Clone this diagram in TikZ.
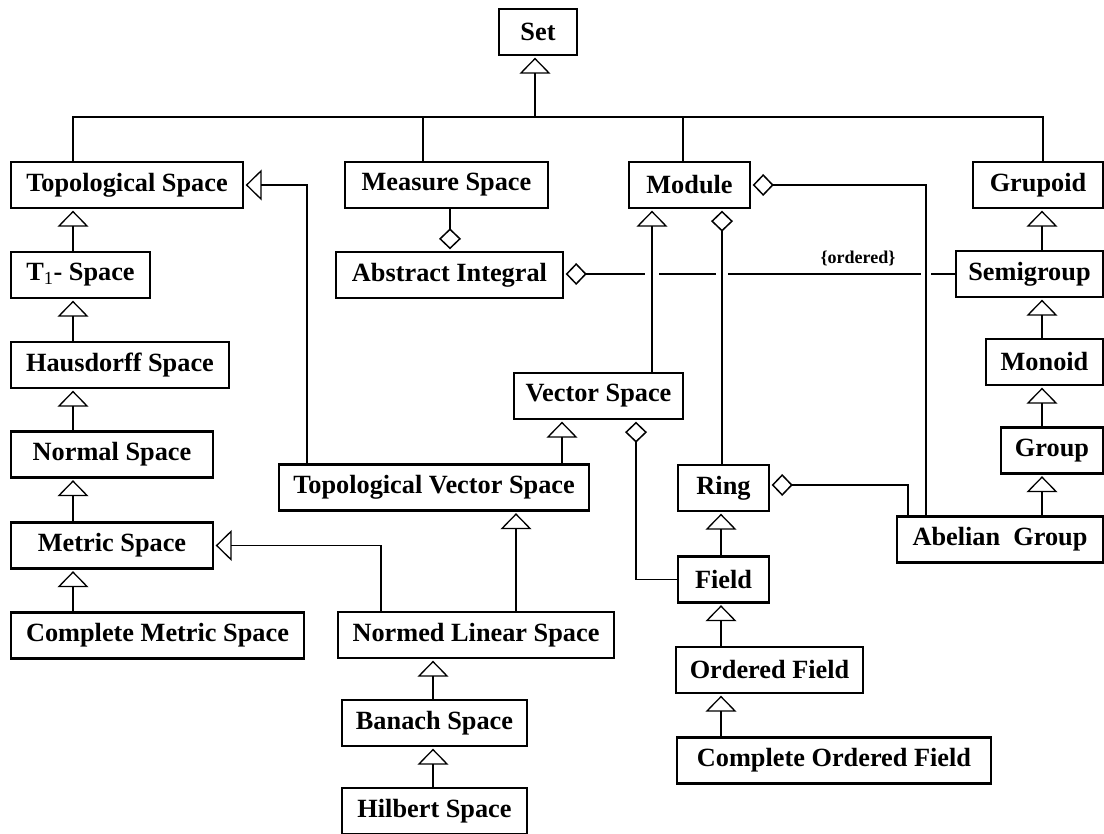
\documentclass[tikz,border=0pt]{standalone}
\usepackage{fontspec}
\setmainfont{Liberation Serif}
\usetikzlibrary{arrows.meta,calc}
\begin{document}
\begin{tikzpicture}[x=1pt,y=-1pt,
  box/.style={draw, line width=2.4pt, inner sep=0pt, minimum height=46pt,
    font=\bfseries\fontsize{26.3}{30}\selectfont},
  conn/.style={line width=1.7pt},
  inh/.style={conn, -{Triangle[open, width=31pt, length=16pt, line width=1.3pt]}, shorten >=1.5pt},
  agg/.style={conn, -{Diamond[open, width=22pt, length=21pt, line width=1.5pt]}, shorten >=1.5pt},
  lbl/.style={font=\bfseries\fontsize{18}{21}\selectfont, inner sep=0pt}]
\useasboundingbox (0,0) rectangle (1104,834);

% nodes
\node[box, minimum width=78pt]  (set)    at (538,32)    {Set};
\node[box, minimum width=232pt] (ts)     at (127,185)   {Topological Space};
\node[box, minimum width=203pt] (ms)     at (446.5,185) {Measure Space};
\node[box, minimum width=121pt] (mod)    at (689.5,185) {Module};
\node[box, minimum width=130pt] (grp)    at (1038,185)  {Grupoid};
\node[box, minimum width=139pt] (t1)     at (80.5,275)  {T\textsubscript{\mdseries 1}- Space};
\node[box, minimum width=227pt] (ai)     at (449.5,275) {Abstract Integral};
\node[box, minimum width=147pt] (semi)   at (1029.5,274) {Semigroup};
\node[box, minimum width=218pt] (haus)   at (120,365)   {Hausdorff Space};
\node[box, minimum width=117pt] (monoid) at (1044.5,362) {Monoid};
\node[box, minimum width=169pt] (vs)     at (598.5,396) {Vector Space};
\node[box, minimum width=202pt] (normal) at (112,454.5) {Normal Space};
\node[box, minimum width=102pt] (group)  at (1052,450.5) {Group};
\node[box, minimum width=310pt] (tvs)    at (434,487.5) {Topological Vector Space};
\node[box, minimum width=91pt]  (ring)   at (723.5,488) {Ring};
\node[box, minimum width=206pt] (abel)   at (1000,539.5) {Abelian\ \ Group};
\node[box, minimum width=202pt] (metric) at (112,545.5) {Metric Space};
\node[box, minimum width=91pt]  (field)  at (723.5,579.5) {Field};
\node[box, minimum width=293pt] (cms)    at (157.5,635.5) {Complete Metric Space};
\node[box, minimum width=276pt] (nls)    at (476,635)   {Normed Linear Space};
\node[box, minimum width=187pt] (of)     at (769.5,670) {Ordered Field};
\node[box, minimum width=185pt] (banach) at (434.5,723) {Banach Space};
\node[box, minimum width=314pt] (cof)    at (834,760.5) {Complete Ordered Field};
\node[box, minimum width=185pt] (hilbert) at (434.5,811) {Hilbert Space};

% helper coordinates
\coordinate (b0) at (535,117);
\coordinate (b1) at (73,117);
\coordinate (b2) at (423,117);
\coordinate (b3) at (683,117);
\coordinate (b4) at (1043,117);
\coordinate (xl) at (73,0);
\coordinate (xr) at (1042,0);
\coordinate (xf) at (721,0);
\coordinate (xn) at (433,0);
\coordinate (xtv) at (516,0);
\coordinate (xvs) at (562,0);
\coordinate (xmo) at (652,0);
\coordinate (xts) at (307,0);
\coordinate (xme) at (381,0);
\coordinate (xms) at (450,0);
\coordinate (xri) at (722,0);
\coordinate (xab) at (926,0);
\coordinate (xab2) at (908,0);
\coordinate (xvf) at (636,0);

% bus from Set
\draw[conn] (b1 |- ts.north) -- (b1) -- (b4) -- (b4 |- grp.north);
\draw[conn] (b2) -- (b2 |- ms.north);
\draw[conn] (b3) -- (b3 |- mod.north);
\draw[inh] (b0) -- (b0 |- set.south);

% left column
\draw[inh] (xl |- t1.north) -- (xl |- ts.south);
\draw[inh] (xl |- haus.north) -- (xl |- t1.south);
\draw[inh] (xl |- normal.north) -- (xl |- haus.south);
\draw[inh] (xl |- metric.north) -- (xl |- normal.south);
\draw[inh] (xl |- cms.north) -- (xl |- metric.south);

% right column
\draw[inh] (xr |- semi.north) -- (xr |- grp.south);
\draw[inh] (xr |- monoid.north) -- (xr |- semi.south);
\draw[inh] (xr |- group.north) -- (xr |- monoid.south);
\draw[inh] (xr |- abel.north) -- (xr |- group.south);

% field column
\draw[inh] (xf |- field.north) -- (xf |- ring.south);
\draw[inh] (xf |- of.north) -- (xf |- field.south);
\draw[inh] (xf |- cof.north) -- (xf |- of.south);

% normed column
\draw[inh] (xn |- banach.north) -- (xn |- nls.south);
\draw[inh] (xn |- hilbert.north) -- (xn |- banach.south);
\draw[inh] (xtv |- nls.north) -- (xtv |- tvs.south);
\draw[inh] (xvs |- tvs.north) -- (xvs |- vs.south);
\draw[inh] (xts |- tvs.north) |- (ts.east);
\draw[inh] (xme |- nls.north) |- (metric.east);

% ordered association with gaps
\draw[agg] (semi.west) -- (ai.east |- semi.west);
\node[lbl] (ord) at (858,258) {\{ordered\}};
\fill[white] ($(xmo |- semi.west)+(-7,-5)$) rectangle +(14,10);
\fill[white] ($(xri |- semi.west)+(-6,-5)$) rectangle +(12,10);
\fill[white] ($(xab |- semi.west)+(-5,-5)$) rectangle +(10,10);

% vertical connectors crossing the ordered line
\draw[inh] (xmo |- vs.north) -- (xmo |- mod.south);
\draw[agg] (xri |- ring.north) -- (xri |- mod.south);
\draw[agg] (xab |- abel.north) |- (mod.east);

% other aggregations
\draw[agg] (xms |- ms.south) -- (xms |- ai.north);
\draw[agg] (field.west) -| (xvf |- vs.south);
\draw[agg] (xab2 |- abel.north) |- ($(ring.east)+(0,-3)$);
\end{tikzpicture}
\end{document}
